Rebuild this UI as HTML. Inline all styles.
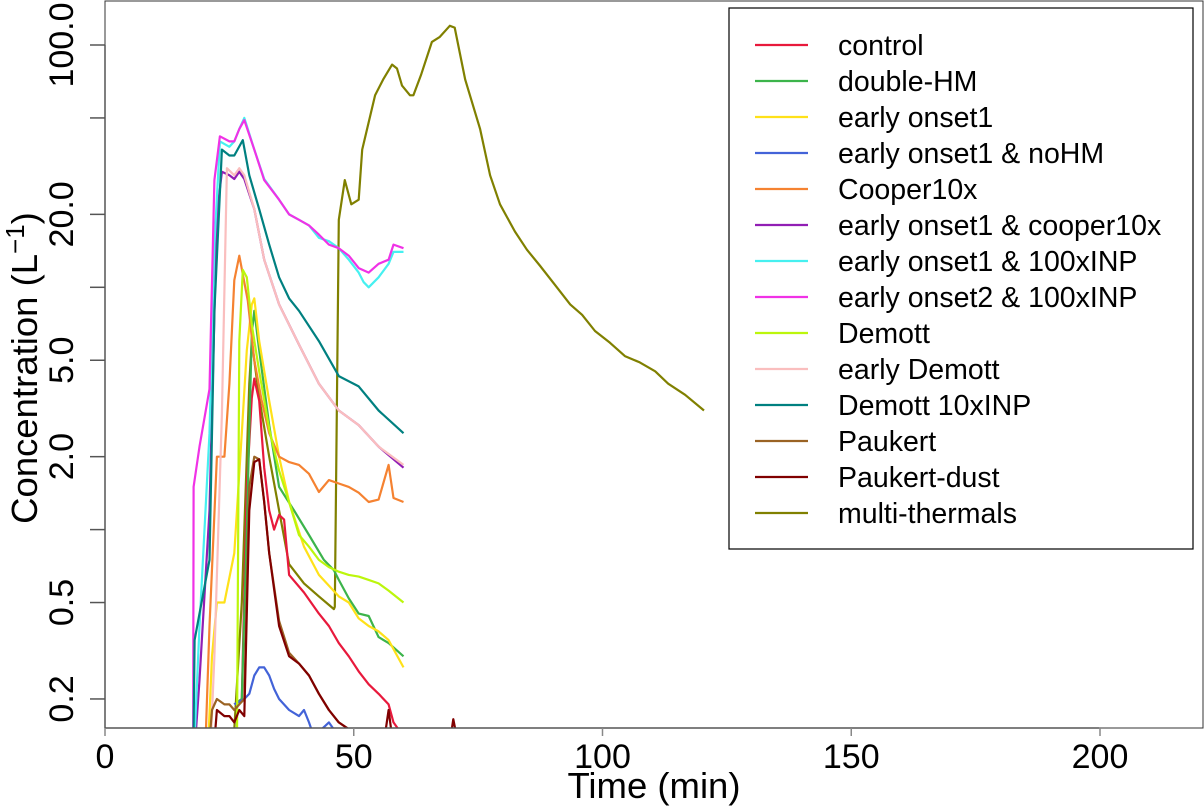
<!DOCTYPE html>
<html><head><meta charset="utf-8"><style>
body{margin:0;background:#fff;}
svg{display:block;font-family:"Liberation Sans",sans-serif;}
</style></head><body>
<svg id="chart" width="1204" height="806">
<defs><clipPath id="plotclip"><rect x="105" y="1" width="1098" height="727"/></clipPath></defs>
<g id="plot" clip-path="url(#plotclip)"></g>
<rect x="105" y="1" width="1098" height="727" fill="none" stroke="#333" stroke-width="1"/>
<g id="axes"></g>
<g id="legend"></g>
</svg>
<script>
const xTicks=[0,50,100,150,200];
const yTicks=[0.2,0.5,2,5,20,100];
const yTickLabels=["0.2","0.5","2.0","5.0","20.0","100.0"];
const seriesNames=["control","double-HM","early onset1","early onset1 & noHM","Cooper10x","early onset1 & cooper10x","early onset1 & 100xINP","early onset2 & 100xINP","Demott","early Demott","Demott 10xINP","Paukert","Paukert-dust","multi-thermals"];
const seriesColors=["#e8193c","#3cb44b","#ffe119","#4363d8","#f58231","#911eb4","#46f0f0","#f032e6","#bcf60c","#fabebe","#008080","#9a6324","#800000","#808000"];
const tControl=[26,27.5,28.5,29.5,30,31,32,33,34,35,36,37,40,43,45,47,49,51,53,55,57,58,60];
const vControl=[0.19,0.2,1.5,3.5,4.2,3.4,1.8,1.2,1.0,1.15,1.1,0.65,0.55,0.45,0.4,0.34,0.3,0.26,0.23,0.21,0.19,0.16,0.14];
const tDouble=[26,27.5,28.5,29.5,30,31,33,35,38,41,44,46,47,49,51,53,55,57,60];
const vDouble=[0.19,0.2,1.0,6.5,8.0,5.5,2.7,1.5,1.2,0.95,0.75,0.68,0.62,0.52,0.45,0.44,0.36,0.34,0.3];
const tEarly1=[20.5,21.5,22.5,24,26,27.5,28.5,29.5,30,31,33,35,37,40,43,47,49,51,53,55,57,60];
const vEarly1=[0.1,0.3,0.5,0.5,0.8,2.5,5.5,8.5,9.0,6.0,3.4,2.0,1.3,0.85,0.65,0.53,0.5,0.43,0.4,0.38,0.35,0.27];
const tNoHM=[26,28,29,30,31,32,33,34,35,37,39,40,41,42,45,47];
const vNoHM=[0.19,0.2,0.21,0.25,0.27,0.27,0.25,0.22,0.2,0.18,0.17,0.18,0.16,0.14,0.16,0.14];
const tCooper=[20,21,22.5,24,25,26,27,28.7,30,31.5,33,35,37,39,41,43,45,47,49,51,53,55,57,58,60];
const vCooper=[0.1,0.4,2.0,2.0,4.0,10.7,13.5,8.8,5.0,3.4,2.5,2.0,1.9,1.85,1.7,1.43,1.6,1.55,1.5,1.42,1.3,1.33,1.85,1.35,1.3];
const tEoCooper=[17.7,19,21,22.5,23.5,25,26,27,28,30,32,35,39,43,47,51,55,60];
const vEoCooper=[0.1,0.24,1.2,20,30,29,28,30,28,21,13,8.5,5.8,4.0,3.1,2.7,2.2,1.8];
const tEo1Inp=[17.7,19,21,22,23.1,25,26,27,28,30,32,35,37,39,41,43,45,47,49,51,52,53,55,57,58,60];
const vEo1Inp=[0.1,0.4,2.5,15,40,38,40,45,50,37,28,23,20,19,18,16,15.5,14.5,13,11.5,10.5,10,11,12.5,14,14];
const tEo2Inp=[17.7,17.8,19,21,22,23.1,25,26,27,28,30,32,35,37,39,41,43,45,47,49,51,53,55,57,58,60];
const vEo2Inp=[0.1,1.5,2.2,3.8,27.7,42,40,40,45,49,37,27.7,23,20,19,18,16.5,15,14.5,13.5,12,11.5,12.5,13,15,14.5];
const tDemott=[26.5,27,27.7,28.5,29.5,31,33,35,37,39,41,43,45,47,49,51,53,55,57,60];
const vDemott=[0.1,6,11.8,11,7,4.5,2.6,1.75,1.3,0.95,0.85,0.75,0.7,0.67,0.65,0.64,0.62,0.6,0.56,0.5];
const tEarlyDemott=[21,22,23.5,24.5,26,27,28,30,32,35,39,43,47,51,55,60];
const vEarlyDemott=[0.1,0.3,3,31,29,31,29,21,13,8.5,5.8,4.0,3.1,2.7,2.2,1.85];
const tDemott10=[17.7,18,19,21,22,23.5,25,26,27.7,29,31,33,35,37,39,43,47,51,55,60];
const vDemott10=[0.1,0.35,0.45,0.75,8,37,35,35,40.5,29,21,15,11,9,8,6,4.3,3.9,3.1,2.5];
const tPaukert=[20.5,21.5,22.5,24,25,26,27,28,29,30,31,32,33,35,37,39,41,43,45,47,49,51];
const vPaukert=[0.1,0.18,0.2,0.19,0.19,0.18,0.19,0.2,1.5,2.0,1.95,1.3,0.8,0.42,0.31,0.28,0.25,0.21,0.18,0.16,0.15,0.13];
const tPdust=[21.5,22.5,24,25,26,27,28,29,30,31,32,33,35,37,39,41,43,45,47,49,51,56,57,57.5,58.5,60,69,70,71];
const vPdust=[0.1,0.18,0.17,0.17,0.16,0.18,0.17,1.2,1.9,1.95,1.3,0.8,0.4,0.3,0.28,0.25,0.21,0.18,0.16,0.15,0.13,0.13,0.18,0.15,0.13,0.12,0.12,0.165,0.13];
const tMulti=[26,27.5,29,29.5,31,33,35,37,40,43,46,46.2,47,48.2,49.5,51,51.7,53.3,54.3,55.9,57.7,58.7,59.7,61.3,62,63.5,65.7,67.3,69.3,70.3,72.4,75.4,77.4,79.4,82.4,84.8,87.4,90.5,93.5,95.9,98.5,101.5,104.5,107.5,110.6,113.2,116.6,120.4];
const vMulti=[0.15,0.5,4,6,3.5,2.0,1.2,0.72,0.6,0.53,0.47,0.48,19,27.7,22,23,37,51,62,72,83,80,68,62,62,75,103,108,120,118,72,45,29,22,17,14.3,12.3,10.2,8.5,7.7,6.6,5.9,5.2,4.9,4.5,4.0,3.6,3.1];
const allT=[tControl,tDouble,tEarly1,tNoHM,tCooper,tEoCooper,tEo1Inp,tEo2Inp,tDemott,tEarlyDemott,tDemott10,tPaukert,tPdust,tMulti];
const allV=[vControl,vDouble,vEarly1,vNoHM,vCooper,vEoCooper,vEo1Inp,vEo2Inp,vDemott,vEarlyDemott,vDemott10,vPaukert,vPdust,vMulti];

const NS="http://www.w3.org/2000/svg";
function xs(t){return 105+t*4.975;}
function ys(v){return 45+(2-Math.log10(v))*242.3;}
function mk(tag,attrs,parent){const e=document.createElementNS(NS,tag);for(const k in attrs)e.setAttribute(k,attrs[k]);parent.appendChild(e);return e;}
const plot=document.getElementById('plot'),axes=document.getElementById('axes'),legend=document.getElementById('legend');
const drawOrder=[13,0,1,2,3,4,5,9,6,7,8,10,11,12];
drawOrder.forEach(i=>{
  const pts=allT[i].map((t,j)=>xs(t).toFixed(1)+','+ys(allV[i][j]).toFixed(1)).join(' ');
  const p=mk('polyline',{points:pts,fill:'none',stroke:seriesColors[i],'stroke-width':2.2,'stroke-linejoin':'round'},plot);
  
  
});
const xl=mk('line',{x1:105,x2:1099,y1:728,y2:728,stroke:'#555','stroke-width':1.5},axes);


xTicks.forEach(t=>{
  mk('line',{x1:xs(t),x2:xs(t),y1:728,y2:736,stroke:'#888','stroke-width':1.5},axes);
  const tx=mk('text',{x:xs(t),y:768,'font-size':34,'text-anchor':'middle',fill:'#000'},axes);
  tx.textContent=t;
  
  
});
const yl=mk('line',{x1:105,x2:105,y1:ys(100),y2:728,stroke:'#555','stroke-width':1.5},axes);


[100,50,20,10,5,2,1,0.5,0.2].forEach(v=>{mk('line',{x1:90,x2:105,y1:ys(v),y2:ys(v),stroke:'#555','stroke-width':1.5},axes);});
yTicks.forEach((v,i)=>{
  const y=ys(v);
  const tx=mk('text',{x:0,y:0,'font-size':34,'text-anchor':'middle',fill:'#000',transform:`translate(73,${y}) rotate(-90)`},axes);
  tx.textContent=yTickLabels[i];
  
  
});
const xt=mk('text',{x:654,y:798,'font-size':36.5,'text-anchor':'middle'},axes);
xt.textContent='Time (min)';


const yt=mk('text',{x:0,y:0,'font-size':36.5,'text-anchor':'middle',transform:'translate(37,368) rotate(-90)'},axes);
yt.innerHTML='Concentration (L<tspan dy="-13" font-size="26">−1</tspan><tspan dy="13">)</tspan>';


mk('rect',{x:729,y:8,width:464,height:541,fill:'#fff',stroke:'#000','stroke-width':1.2},legend);
seriesNames.forEach((n,i)=>{
  const y=45+i*36;
  const g=mk('g',{},legend);
  
  
  mk('line',{x1:755,x2:808,y1:y,y2:y,stroke:seriesColors[i],'stroke-width':2.2},g);
  const tx=mk('text',{x:838,y:y+10,'font-size':28.5},g);
  tx.textContent=n;
});
</script>
</body></html>
